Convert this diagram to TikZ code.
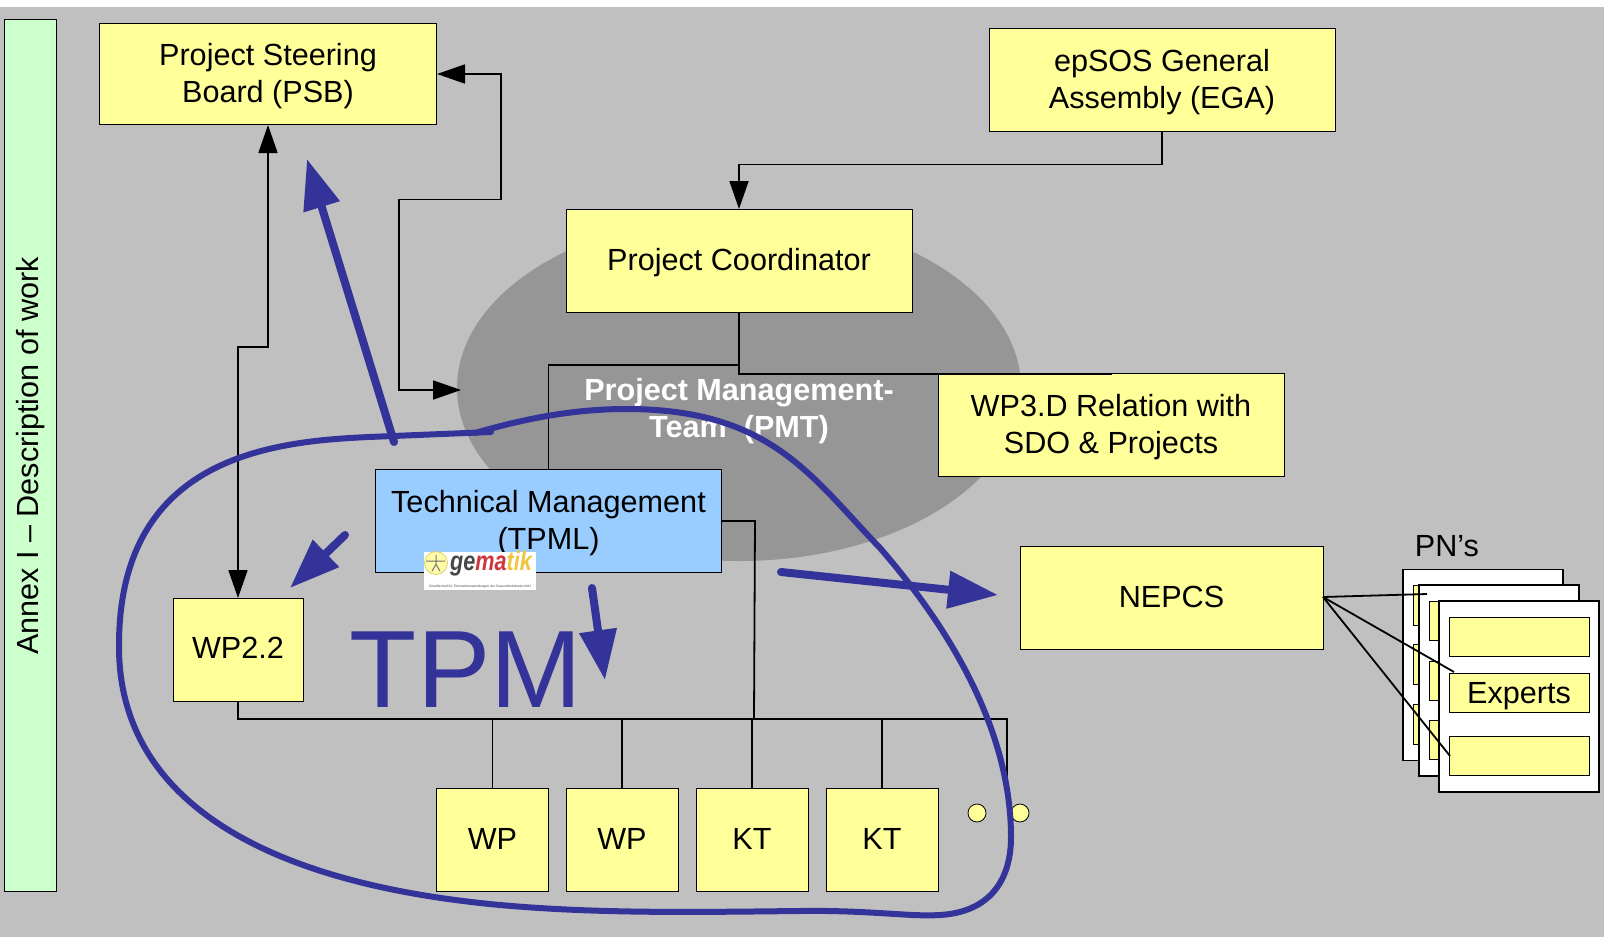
\documentclass[tikz,border=0pt]{standalone}
\usepackage{fontspec}
\setmainfont{Liberation Sans}
\usepackage{tikz}
\usetikzlibrary{shapes.geometric,arrows.meta,positioning,calc}
\definecolor{bggray}{HTML}{C0C0C0}
\definecolor{pmtgray}{HTML}{969696}
\definecolor{boxyellow}{HTML}{FFFF99}
\definecolor{sidegreen}{HTML}{CCFFCC}
\definecolor{tpmlblue}{HTML}{99CCFF}
\definecolor{inkblue}{HTML}{333399}
\tikzstyle{board}=[draw, fill=boxyellow, align=center, inner sep=0pt, line width=1pt, font=\fontsize{30.6}{37}\selectfont]
\tikzstyle{droptext}=[execute at begin node={\rule{0pt}{#1}}]
\tikzstyle{raisetext}=[execute at begin node={\rule[-#1]{0pt}{#1}}]
\tikzstyle{wide}=[board, minimum width=346pt, minimum height=103pt]
\tikzstyle{twotext}=[align=center, inner sep=0pt, yshift=-2.5pt, font=\fontsize{30.6}{37}\selectfont]
\tikzstyle{small}=[board, raisetext=2pt, minimum width=112pt, minimum height=103pt]
\tikzstyle{page}=[draw, fill=white, line width=1.5pt, minimum width=160pt, minimum height=191pt, inner sep=0pt]
\tikzstyle{slot}=[board, minimum width=140pt, minimum height=39pt]
\tikzstyle{dot}=[draw, circle, fill=boxyellow, minimum width=18pt, inner sep=0pt, line width=0.8pt]
\tikzstyle{wire}=[line width=1.8pt]
\tikzstyle{tip}=[wire, {Triangle[length=28pt,width=19pt]}-{Triangle[length=28pt,width=19pt]}]
\tikzstyle{tiponly}=[wire, -{Triangle[length=28pt,width=19pt]}]
\tikzstyle{ink}=[inkblue, line width=6pt, line cap=round, line join=round]
\tikzstyle{pen}=[ink, line width=8pt, -{Triangle[length=50pt,width=36pt]}]

\begin{document}
\begin{tikzpicture}[x=1pt, y=-1pt]
    \useasboundingbox (0,0) rectangle (1604,937);
    \fill[bggray] (0,7) rectangle (1604,937);

    % Side bar and the team ellipse
    \node[draw, fill=sidegreen, line width=1pt, minimum width=52pt, minimum height=872pt, inner sep=0pt] (side) at (30,455) {};
    \node[rotate=90, font=\fontsize{30.6}{37}\selectfont] (sidetext) at (31,456) {Annex I – Description of work};
    \node[ellipse, fill=pmtgray, minimum width=564pt, minimum height=346pt, inner sep=0pt] (pmt) at (739,388) {};
    \node[white, align=center, font=\bfseries\fontsize{30.6}{36.5}\selectfont] (pmttext) at (739,411) {Project Management-\\Team~~(PMT)};

    % Boxes
    \node[wide, minimum width=337pt, minimum height=101pt, label={[twotext]center:{Project Steering\\Board (PSB)}}] (psb) at (268,74) {};
    \node[wide, label={[twotext]center:{epSOS General\\Assembly (EGA)}}] (ega) at (1162,79.5) {};
    \node[wide, droptext=26pt] (pc) at (739,261) {Project Coordinator};
    \node[wide, label={[twotext]center:{WP3.D Relation with\\SDO \& Projects}}] (wp3d) at (1111,425) {};
    \node[wide, fill=tpmlblue, label={[twotext]center:{Technical Management\\(TPML)}}] (tpml) at (548.5,520.5) {};
    \node[wide, raisetext=2pt, minimum width=303pt] (nepcs) at (1171.5,597.5) {NEPCS};
    \node[board, raisetext=4pt, minimum width=130pt, minimum height=103pt] (wp22) at (238,650) {WP2.2};
    \node[small] (wp1) at (492.5,839.5) {WP};
    \node[small] (wp2) at (622,839.5) {WP};
    \node[small] (kt1) at (752,839.5) {KT};
    \node[small] (kt2) at (882,839.5) {KT};
    \node[dot] (dot1) at (977,813) {};
    \node[dot] (dot2) at (1020,813) {};

    % Logo on the TPML box
    \node[fill=white, minimum width=112pt, minimum height=38pt, inner sep=0pt] (logo) at (480,571) {};
    \node[circle, fill=yellow!35!white, draw=yellow!60!gray, line width=0.6pt, minimum width=23pt, inner sep=0pt] (logoman) at (436,563) {};
    \draw[black!55, line width=1pt] (logoman.north) ++(0,4) -- ++(0,9) -- ++(-4,7) (logoman.north) ++(0,13) -- ++(4,7) (logoman.west) ++(2,-2) -- ++(19,0);
    \node[font=\bfseries\itshape\fontsize{27}{27}\selectfont, xscale=0.8, inner sep=0pt] (logotext) at (491,564) {\textcolor{black!72}{ge}\textcolor[HTML]{D0343C}{ma}\textcolor[HTML]{F0C43C}{tik}};
    \node[font=\fontsize{3.4}{4}\selectfont, text=black!70, inner sep=0pt] (logosub) at (480,587) {Gesellschaft für Telematikanwendungen der Gesundheitskarte mbH};

    % PN pages
    \node[font=\fontsize{30.6}{37}\selectfont, inner sep=0pt] (pnlabel) at (1447,546) {PN’s};
    \node[page] (pn1) at (1483,665) {};
    \foreach \y/\name in {605/a, 664/b, 724/c}
      \node[slot, minimum height=40pt] (s1\name) at (1483,\y) {};
    \node[page] (pn2) at (1499,680.5) {};
    \foreach \y/\name in {620.5/a, 680.5/b, 739.5/c}
      \node[slot] (s2\name) at (1499,\y) {};
    \node[page] (pn3) at (1519,696.5) {};
    \node[slot] (s3a) at (1519,637) {};
    \node[slot, droptext=29pt] (s3b) at (1519,692.5) {Experts};
    \node[slot] (s3c) at (1519,755.5) {};

    % Connectors
    \coordinate (pmtin) at (461,390);
    \coordinate (busleft) at (238,719);
    \coordinate (busright) at (1007,719);
    \coordinate (busend) at (1007,788);
    \coordinate (lane) at (754,719);
    \draw[tiponly] (ega.south) -- ++(0,33) -| (pc.north);
    \draw[wire] (pc.south) -- ++(0,61) -| (wp3d.north);
    \draw[wire] (pc.south) -- ++(0,52) -| (tpml.north);
    \draw[tip] (psb.east) -- ++(64,0) -- ++(0,125.5) -- ++(-102,0) |- (pmtin);
    \draw[tip] (psb.south) -- ++(0,222) -| (wp22.north);
    \draw[wire] (tpml.east |- 0,521) -- ++(33,0) -- (lane);
    \draw[wire] (wp22.south) -- (busleft) -- (busright) -- (busend);
    \foreach \dest in {wp1, wp2, kt1, kt2}
      \draw[wire] (\dest.north) -- (\dest.north |- busleft);

    \coordinate (nepcsout) at (1323,597);
    \coordinate (s2in) at (1427,594);
    \coordinate (s3bin) at (1454,672);
    \coordinate (s3cin) at (1450,756);
    \draw[wire] (nepcsout) -- (s2in);
    \draw[wire] (nepcsout) -- (s3bin);
    \draw[wire] (nepcsout) -- (s3cin);

    % Hand drawn marks
    \node[inkblue, font=\fontsize{110}{110}\selectfont, inner sep=0pt] (tpm) at (466,670) {TPM};
    \draw[ink] (491,432) -- (393,436) .. controls (300,440) and (118,440) .. (119,647)
      .. controls (119,780) and (230,880) .. (500,905)
      .. controls (600,914) and (700,912) .. (800,911)
      .. controls (870,910) and (910,917) .. (940,915)
      .. controls (990,912) and (1011,880) .. (1011,837)
      .. controls (1011,740) and (960,640) .. (880,548)
      .. controls (810,475) and (770,409) .. (626,409)
      .. controls (570,409) and (520,420) .. (475,433);
    \coordinate (a1) at (394,442);
    \coordinate (a2) at (307,159);
    \coordinate (b1) at (345,535);
    \coordinate (b2) at (290,588);
    \coordinate (c1) at (592,588);
    \coordinate (c2) at (605,680);
    \coordinate (d1) at (781,572);
    \coordinate (d2) at (998,595);
    \foreach \source/\dest in {a1/a2, b1/b2, c1/c2, d1/d2}
      \draw[pen] (\source) -- (\dest);
\end{tikzpicture}
\end{document}
